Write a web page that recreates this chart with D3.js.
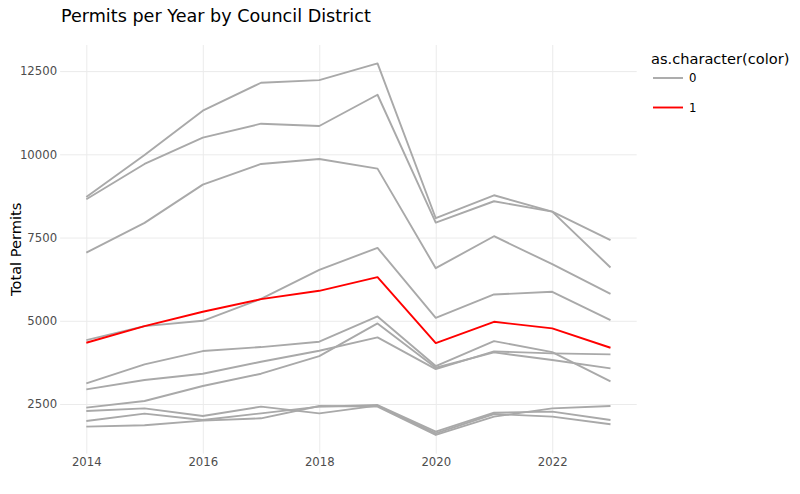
<!DOCTYPE html>
<html>
<head>
<meta charset="utf-8">
<script src="https://cdn.jsdelivr.net/npm/d3@7"></script>
<style>
  html, body { margin: 0; padding: 0; background: #fff; }
  svg { display: block; font-family: "DejaVu Sans", Verdana, sans-serif; }
</style>
</head>
<body>
<svg id="chart" width="800" height="494"></svg>
<script>
// ---- data ----
const years = [2014, 2015, 2016, 2017, 2018, 2019, 2020, 2021, 2022, 2023];
const districtA = [8720, 9980, 11310, 12150, 12230, 12730, 8080, 8770, 8280, 7420];
const districtB = [8650, 9710, 10500, 10920, 10850, 11790, 7950, 8590, 8280, 6600];
const districtC = [7050, 7940, 9090, 9710, 9860, 9570, 6580, 7540, 6700, 5810];
const districtD = [4420, 4840, 5000, 5660, 6530, 7190, 5090, 5790, 5870, 5020];
const districtE = [3120, 3690, 4090, 4210, 4370, 5130, 3640, 4390, 4060, 3180];
const districtF = [2940, 3220, 3410, 3770, 4100, 4500, 3550, 4080, 4020, 3990];
const districtG = [2390, 2590, 3040, 3410, 3940, 4920, 3590, 4050, 3820, 3570];
const districtH = [2290, 2370, 2140, 2420, 2220, 2450, 1620, 2200, 2120, 1890];
const districtI = [1990, 2210, 2020, 2220, 2420, 2470, 1670, 2240, 2270, 2020];
const districtJ = [1820, 1860, 2000, 2070, 2440, 2420, 1570, 2120, 2370, 2440];
const districtRed = [4340, 4840, 5270, 5650, 5900, 6310, 4330, 4970, 4770, 4190];

const grayDistricts = [districtA, districtB, districtC, districtD, districtE, districtF,
                       districtG, districtH, districtI, districtJ];
const redDistricts = [districtRed];

const xTicks = [2014, 2016, 2018, 2020, 2022];
const yTicks = [2500, 5000, 7500, 10000, 12500];
const legendLabels = ["0", "1"];
const legendColors = ["#A9A9A9", "#FF0000"];

// ---- layout ----
const svg = d3.select("#chart");
const plotL = 60.1, plotR = 636.7, plotT = 45, plotB = 453.6;

const x = d3.scaleLinear().domain([2013.55, 2023.45]).range([plotL, plotR]);
const y = d3.scaleLinear().domain([1010, 13284]).range([plotB, plotT]);

// gridlines
svg.append("g")
  .attr("transform", `translate(0,${plotB})`)
  .call(d3.axisBottom(x).tickValues(xTicks).tickSize(-(plotB - plotT)).tickFormat(""))
  .call(g => g.select(".domain").remove())
  .call(g => g.selectAll("line").attr("stroke", "#ebebeb").attr("stroke-width", 1));
svg.append("g")
  .attr("transform", `translate(${plotL},0)`)
  .call(d3.axisLeft(y).tickValues(yTicks).tickSize(-(plotR - plotL)).tickFormat(""))
  .call(g => g.select(".domain").remove())
  .call(g => g.selectAll("line").attr("stroke", "#ebebeb").attr("stroke-width", 1));

// tick labels
svg.append("g")
  .attr("transform", `translate(0,${plotB})`)
  .call(d3.axisBottom(x).tickValues(xTicks).tickSize(0).tickPadding(4).tickFormat(d3.format("d")))
  .call(g => g.select(".domain").remove())
  .call(g => g.selectAll("text").attr("fill", "#4d4d4d")
    .style("font-size", "11.7px").style("font-family", "DejaVu Sans, Verdana, sans-serif"));
svg.append("g")
  .attr("transform", `translate(${plotL},0)`)
  .call(d3.axisLeft(y).tickValues(yTicks).tickSize(0).tickPadding(3).tickFormat(d3.format("d")))
  .call(g => g.select(".domain").remove())
  .call(g => g.selectAll("text").attr("fill", "#4d4d4d")
    .style("font-size", "11.7px").style("font-family", "DejaVu Sans, Verdana, sans-serif"));

// lines
const line = d3.line().x((d, i) => x(years[i])).y(d => y(d));
svg.append("g").selectAll("path").data(grayDistricts).join("path")
  .attr("d", line).attr("fill", "none")
  .attr("stroke", legendColors[0]).attr("stroke-width", 1.9)
  .attr("stroke-linejoin", "round");
svg.append("g").selectAll("path").data(redDistricts).join("path")
  .attr("d", line).attr("fill", "none")
  .attr("stroke", legendColors[1]).attr("stroke-width", 1.9)
  .attr("stroke-linejoin", "round");

// title
svg.append("text").attr("x", 61).attr("y", 21.5)
  .attr("fill", "#000").style("font-size", "17.6px")
  .text("Permits per Year by Council District");

// y-axis title
svg.append("text")
  .attr("transform", `translate(21,${(plotT + plotB) / 2}) rotate(-90)`)
  .attr("text-anchor", "middle")
  .attr("fill", "#000").style("font-size", "14.6px")
  .text("Total Permits");

// legend
const lg = svg.append("g");
lg.append("text").attr("x", 651).attr("y", 64)
  .attr("fill", "#000").style("font-size", "14.6px")
  .text("as.character(color)");
legendLabels.forEach((lab, i) => {
  const yy = 78 + i * 29.5;
  lg.append("line").attr("x1", 653).attr("x2", 683).attr("y1", yy).attr("y2", yy)
    .attr("stroke", legendColors[i]).attr("stroke-width", 1.9);
  lg.append("text").attr("x", 689).attr("y", yy).attr("dy", "0.36em")
    .attr("fill", "#000").style("font-size", "11.7px").text(lab);
});
</script>
</body>
</html>
